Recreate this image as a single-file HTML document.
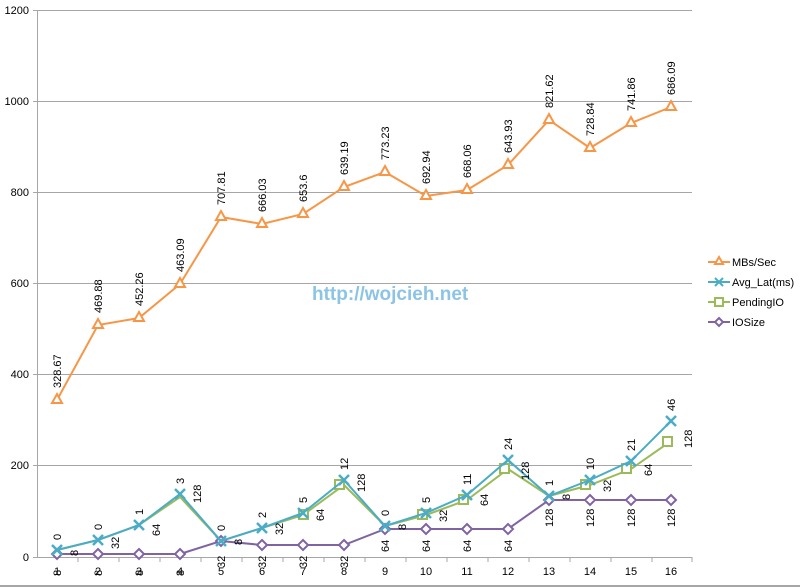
<!DOCTYPE html>
<html><head><meta charset="utf-8"><style>
body{margin:0;background:#fff}
svg{display:block;font-family:"Liberation Sans",sans-serif}
.l{font-size:11px;fill:#000}
</style></head><body>
<svg width="800" height="587" viewBox="0 0 800 587">
<rect width="800" height="587" fill="#fff"/>
<line x1="0" y1="586" x2="800" y2="586" stroke="#888" stroke-width="1.5"/>
<g stroke="#a6a6a6" stroke-width="1">
<line x1="33" y1="10.5" x2="692" y2="10.5"/><line x1="33" y1="101.5" x2="692" y2="101.5"/>
<line x1="33" y1="192.5" x2="692" y2="192.5"/><line x1="33" y1="283.5" x2="692" y2="283.5"/>
<line x1="33" y1="374.5" x2="692" y2="374.5"/><line x1="33" y1="465.5" x2="692" y2="465.5"/>
<line x1="33" y1="557.5" x2="692" y2="557.5"/>
<line x1="37.5" y1="10" x2="37.5" y2="558"/>
<path d="M78 557v5M119 557v5M160 557v5M201 557v5M242 557v5M283 557v5M324 557v5M365 557v5M406 557v5M447 557v5M488 557v5M529 557v5M570 557v5M611 557v5M652 557v5M692 557v5"/>
</g>
<g class="l" text-anchor="end" font-size="11">
<text x="29" y="14">1200</text><text x="29" y="105">1000</text><text x="29" y="196">800</text>
<text x="29" y="287">600</text><text x="29" y="378">400</text><text x="29" y="469">200</text><text x="29" y="561">0</text>
</g>
<g class="l" text-anchor="middle" font-size="11">
<text x="57" y="575">1</text><text x="98" y="575">2</text><text x="139" y="575">3</text><text x="180" y="575">4</text>
<text x="221" y="575">5</text><text x="262" y="575">6</text><text x="303" y="575">7</text><text x="344" y="575">8</text>
<text x="385" y="575">9</text><text x="426" y="575">10</text><text x="467" y="575">11</text><text x="508" y="575">12</text>
<text x="549" y="575">13</text><text x="590" y="575">14</text><text x="631" y="575">15</text><text x="671" y="575">16</text>
</g>
<text x="312" y="300" font-size="19" font-weight="bold" fill="#8cc4e6" font-family="Liberation Sans,sans-serif">http://wojcieh.net</text>
<!-- IOSize -->
<polyline fill="none" stroke="#8064a2" stroke-width="2" points="57,554 98,554 139,554 180,554 221,541 262,545 303,545 344,545 385,529 426,529 467,529 508,529 549,500 590,500 631,500 671,500"/>
<g fill="#fff" stroke="#8064a2" stroke-width="2">
<path d="M57 549l5 5-5 5-5-5zM98 549l5 5-5 5-5-5zM139 549l5 5-5 5-5-5zM180 549l5 5-5 5-5-5zM221 536l5 5-5 5-5-5zM262 540l5 5-5 5-5-5zM303 540l5 5-5 5-5-5zM344 540l5 5-5 5-5-5zM385 524l5 5-5 5-5-5zM426 524l5 5-5 5-5-5zM467 524l5 5-5 5-5-5zM508 524l5 5-5 5-5-5zM549 495l5 5-5 5-5-5zM590 495l5 5-5 5-5-5zM631 495l5 5-5 5-5-5zM671 495l5 5-5 5-5-5z"/>
</g>
<!-- PendingIO -->
<polyline fill="none" stroke="#9bbb59" stroke-width="2" points="57,550 98,540 139,525 180,497 221,541 262,528 303,515 344,485 385,526 426,515 467,500 508,469 549,496 590,485 631,469 671,441"/>
<g fill="#fff" stroke="#9bbb59" stroke-width="2">
<path d="M303 510h9v9h-9zM339 480h9v9h-9zM422 510h9v9h-9zM463 495h9v9h-9zM504 464h9v9h-9zM585 480h9v9h-9zM626 464h9v9h-9zM667 437h9v9h-9z" transform="translate(-4 0)"/>
</g>
<!-- Avg_Lat -->
<polyline fill="none" stroke="#4bacc6" stroke-width="2" points="57,550 98,540 139,525 180,494 221,541 262,528 303,513 344,480 385,526 426,513 467,495 508,460 549,496 590,480 631,461 671,421"/>
<g stroke="#4bacc6" stroke-width="2.5">
<path d="M52 545l10 10M62 545l-10 10M93 535l10 10M103 535l-10 10M134 520l10 10M144 520l-10 10M175 489l10 10M185 489l-10 10M216 536l10 10M226 536l-10 10M257 523l10 10M267 523l-10 10M298 508l10 10M308 508l-10 10M339 475l10 10M349 475l-10 10M380 521l10 10M390 521l-10 10M421 508l10 10M431 508l-10 10M462 490l10 10M472 490l-10 10M503 455l10 10M513 455l-10 10M544 491l10 10M554 491l-10 10M585 475l10 10M595 475l-10 10M626 456l10 10M636 456l-10 10M666 416l10 10M676 416l-10 10"/>
</g>
<!-- MBs -->
<polyline fill="none" stroke="#f79646" stroke-width="2" points="57,400 98,325 139,318 180,284 221,217 262,224 303,214 344,187 385,172 426,196 467,190 508,165 549,120 590,148 631,123 671,107"/>
<g fill="#fff" stroke="#f79646" stroke-width="2">
<path d="M57 394l5 9h-10zM98 319l5 9h-10zM139 312l5 9h-10zM180 278l5 9h-10zM221 211l5 9h-10zM262 218l5 9h-10zM303 208l5 9h-10zM344 181l5 9h-10zM385 166l5 9h-10zM426 190l5 9h-10zM467 184l5 9h-10zM508 159l5 9h-10zM549 114l5 9h-10zM590 142l5 9h-10zM631 117l5 9h-10zM671 101l5 9h-10z"/>
</g>
<g class="l" font-size="11">
<text transform="translate(61 388) rotate(-90)">328.67</text>
<text transform="translate(102 313) rotate(-90)">469.88</text>
<text transform="translate(143 306) rotate(-90)">452.26</text>
<text transform="translate(184 272) rotate(-90)">463.09</text>
<text transform="translate(225 205) rotate(-90)">707.81</text>
<text transform="translate(266 212) rotate(-90)">666.03</text>
<text transform="translate(307 202) rotate(-90)">653.6</text>
<text transform="translate(348 175) rotate(-90)">639.19</text>
<text transform="translate(389 160) rotate(-90)">773.23</text>
<text transform="translate(430 184) rotate(-90)">692.94</text>
<text transform="translate(471 178) rotate(-90)">668.06</text>
<text transform="translate(512 153) rotate(-90)">643.93</text>
<text transform="translate(553 108) rotate(-90)">821.62</text>
<text transform="translate(594 136) rotate(-90)">728.84</text>
<text transform="translate(635 111) rotate(-90)">741.86</text>
<text transform="translate(675 95) rotate(-90)">686.09</text>
<text transform="translate(61 540) rotate(-90)">0</text>
<text transform="translate(102 530) rotate(-90)">0</text>
<text transform="translate(143 515) rotate(-90)">1</text>
<text transform="translate(184 484) rotate(-90)">3</text>
<text transform="translate(225 531) rotate(-90)">0</text>
<text transform="translate(266 518) rotate(-90)">2</text>
<text transform="translate(307 503) rotate(-90)">5</text>
<text transform="translate(348 470) rotate(-90)">12</text>
<text transform="translate(389 516) rotate(-90)">0</text>
<text transform="translate(430 503) rotate(-90)">5</text>
<text transform="translate(471 485) rotate(-90)">11</text>
<text transform="translate(512 450) rotate(-90)">24</text>
<text transform="translate(553 486) rotate(-90)">1</text>
<text transform="translate(594 470) rotate(-90)">10</text>
<text transform="translate(635 451) rotate(-90)">21</text>
<text transform="translate(675 411) rotate(-90)">46</text>
<text transform="translate(78 556) rotate(-90)">8</text>
<text transform="translate(119 549) rotate(-90)">32</text>
<text transform="translate(160 536) rotate(-90)">64</text>
<text transform="translate(201 503) rotate(-90)">128</text>
<text transform="translate(242 545) rotate(-90)">8</text>
<text transform="translate(283 535) rotate(-90)">32</text>
<text transform="translate(324 521) rotate(-90)">64</text>
<text transform="translate(365 492) rotate(-90)">128</text>
<text transform="translate(406 530) rotate(-90)">8</text>
<text transform="translate(447 522) rotate(-90)">32</text>
<text transform="translate(488 506) rotate(-90)">64</text>
<text transform="translate(529 480) rotate(-90)">128</text>
<text transform="translate(570 500) rotate(-90)">8</text>
<text transform="translate(611 492) rotate(-90)">32</text>
<text transform="translate(652 476) rotate(-90)">64</text>
<text transform="translate(692 448) rotate(-90)">128</text>
<text transform="translate(61 576) rotate(-90)">8</text>
<text transform="translate(102 576) rotate(-90)">8</text>
<text transform="translate(143 576) rotate(-90)">8</text>
<text transform="translate(184 576) rotate(-90)">8</text>
<text transform="translate(225 568) rotate(-90)">32</text>
<text transform="translate(266 568) rotate(-90)">32</text>
<text transform="translate(307 568) rotate(-90)">32</text>
<text transform="translate(348 568) rotate(-90)">32</text>
<text transform="translate(389 552) rotate(-90)">64</text>
<text transform="translate(430 552) rotate(-90)">64</text>
<text transform="translate(471 552) rotate(-90)">64</text>
<text transform="translate(512 552) rotate(-90)">64</text>
<text transform="translate(553 527) rotate(-90)">128</text>
<text transform="translate(594 527) rotate(-90)">128</text>
<text transform="translate(635 527) rotate(-90)">128</text>
<text transform="translate(675 527) rotate(-90)">128</text>
</g>
<g stroke-width="2" fill="#fff">
<line x1="708" y1="262" x2="730" y2="262" stroke="#f79646"/><path d="M719 257l4 7h-8z" stroke="#f79646"/>
<line x1="708" y1="282" x2="730" y2="282" stroke="#4bacc6"/><path d="M715 278l8 8M723 278l-8 8" stroke="#4bacc6"/>
<line x1="708" y1="302" x2="730" y2="302" stroke="#9bbb59"/><rect x="715" y="298" width="8" height="8" stroke="#9bbb59"/>
<line x1="708" y1="322" x2="730" y2="322" stroke="#8064a2"/><path d="M719 318l4 4-4 4-4-4z" stroke="#8064a2"/>
</g>
<g class="l" font-size="11">
<text x="732" y="266">MBs/Sec</text><text x="732" y="286">Avg_Lat(ms)</text>
<text x="732" y="306">PendingIO</text><text x="732" y="326">IOSize</text>
</g>
</svg>
</body></html>
